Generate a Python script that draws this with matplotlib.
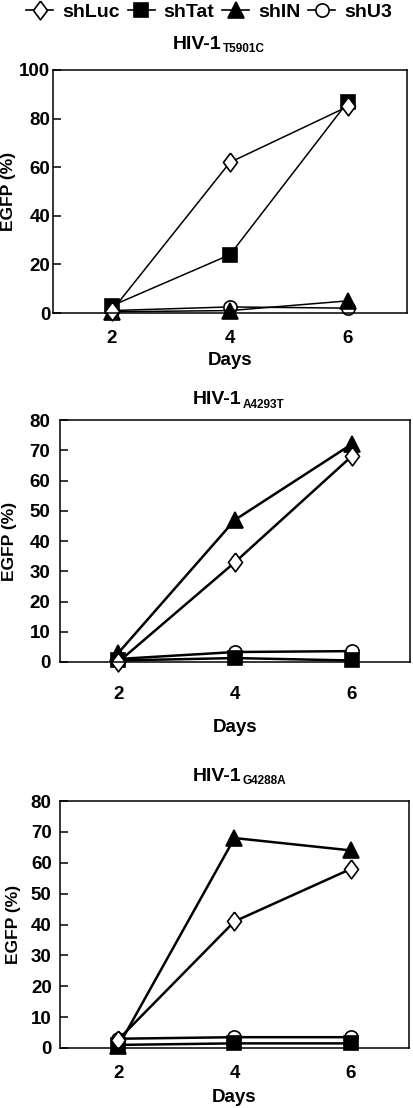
import matplotlib
matplotlib.use('Agg')
import matplotlib.pyplot as plt
import numpy as np

plt.rcParams['font.family'] = ['Liberation Sans', 'DejaVu Sans']
plt.rcParams['font.weight'] = 'bold'

# data
days = [2, 4, 6]
series_names = ['shLuc', 'shTat', 'shIN', 'shU3']

strains = ['T5901C', 'A4293T', 'G4288A']

# HIV-1 T5901C
t5901c_luc = [1, 62, 85]
t5901c_tat = [3, 24, 87]
t5901c_in = [0.5, 1, 5]
t5901c_u3 = [1, 2.5, 2]

# HIV-1 A4293T
a4293t_luc = [0, 33, 68]
a4293t_tat = [0.5, 1.3, 0.5]
a4293t_in = [3, 47, 72]
a4293t_u3 = [1, 3.3, 3.6]

# HIV-1 G4288A
g4288a_luc = [2.7, 41, 58]
g4288a_tat = [1, 1.5, 1.5]
g4288a_in = [0.5, 68, 64]
g4288a_u3 = [3, 3.5, 3.5]

ymax = [100, 80, 80]
ystep = [20, 10, 10]

panels = [
    {'shLuc': t5901c_luc, 'shTat': t5901c_tat, 'shIN': t5901c_in, 'shU3': t5901c_u3},
    {'shLuc': a4293t_luc, 'shTat': a4293t_tat, 'shIN': a4293t_in, 'shU3': a4293t_u3},
    {'shLuc': g4288a_luc, 'shTat': g4288a_tat, 'shIN': g4288a_in, 'shU3': g4288a_u3},
]

# tall thin diamond
diamond = [(0, 1), (0.75, 0), (0, -1), (-0.75, 0), (0, 1)]
styles = {
    'shLuc': dict(marker=diamond, ms=13.5, mfc='white'),
    'shTat': dict(marker='s', ms=10.5, mfc='black'),
    'shIN': dict(marker='^', ms=11, mfc='black'),
    'shU3': dict(marker='o', ms=9.5, mfc='white'),
}
draw_order = ['shU3', 'shIN', 'shTat', 'shLuc']

W, H = 414, 1108
fig = plt.figure(figsize=(W / 100, H / 100), dpi=100)

# layout per panel (pixels / points)
boxes = [(53, 70, 407, 313), (60, 420, 410, 662), (60, 801, 409, 1048)]
line_w = [1.1, 1.8, 1.8]
ytick_pad = [2, 7, 6]
xtick_pad = [12.5, 17, 12]
ylab_x = [-0.105, -0.124, -0.113]
xlab_y = [-0.16, -0.235, -0.165]
title_x = [0.477, 0.517, 0.52]
title_y = [1.088, 1.066, 1.081]

for i, p in enumerate(panels):
    l, t, r, b = boxes[i]
    ax = fig.add_axes([l / W, 1 - b / H, (r - l) / W, (b - t) / H])
    for name in draw_order:
        st = styles[name]
        ax.plot(days, p[name], color='black', lw=line_w[i], marker=st['marker'],
                ms=st['ms'], mfc=st['mfc'], mec='black', mew=1.2, clip_on=False)
    ax.set_xlim(1, 7)
    ax.set_ylim(0, ymax[i])
    ax.set_xticks(days)
    ax.set_yticks(np.arange(0, ymax[i] + 1, ystep[i]))
    ax.tick_params(axis='y', direction='in', length=6, width=1.1, labelsize=13.5, pad=ytick_pad[i])
    ax.tick_params(axis='x', length=0, labelsize=13.5, pad=xtick_pad[i])
    for lab in ax.get_xticklabels() + ax.get_yticklabels():
        lab.set_fontweight('bold')
    for s in ax.spines.values():
        s.set_linewidth(1.1)
    ax.set_xlabel('Days', fontsize=13.5, fontweight='bold')
    ax.set_ylabel('EGFP (%)', fontsize=12.5, fontweight='bold')
    ax.xaxis.set_label_coords(0.5, xlab_y[i])
    ax.yaxis.set_label_coords(ylab_x[i], 0.5)
    ax.text(title_x[i], title_y[i], 'HIV-1', transform=ax.transAxes, ha='right',
            va='baseline', fontsize=14, fontweight='bold')
    ax.annotate(strains[i], xy=(title_x[i], title_y[i]), xycoords='axes fraction',
                xytext=(1, -2.5), textcoords='offset points', ha='left', va='baseline',
                fontsize=8.5, fontweight='bold')

handles = []
for name in series_names:
    st = styles[name]
    h, = plt.plot([], [], color='black', lw=1.2, marker=st['marker'], ms=st['ms'],
                  mfc=st['mfc'], mec='black', mew=1.2)
    handles.append(h)
fig.legend(handles, series_names, loc='center', bbox_to_anchor=(0.505, 1 - 12 / H),
           ncol=4, frameon=False, handlelength=1.4, handletextpad=0.45, columnspacing=0.4,
           borderpad=0, prop={'weight': 'bold', 'size': 14})

fig.savefig('out.png', dpi=100)
